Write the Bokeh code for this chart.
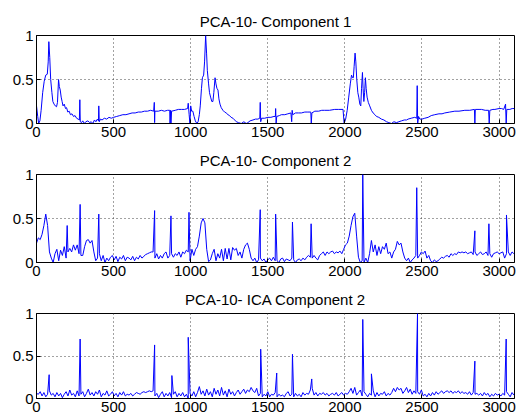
from bokeh.plotting import figure
from bokeh.layouts import column
from bokeh.models import FixedTicker, Range1d
from bokeh.embed import file_html
from bokeh.resources import INLINE

titles = ["PCA-10- Component 1", "PCA-10- Component 2", "PCA-10- ICA Component 2"]
x_ticks = [0, 500, 1000, 1500, 2000, 2500, 3000]
y_ticks = [0, 0.5, 1]
y_tick_labels = {0: "0", 0.5: "0.5", 1: "1"}

# Panel 1: PCA component 1 (sample index, value)
c1_x = [0, 8, 14, 22, 30, 40, 50, 60, 70, 76, 80, 86, 92, 100, 106, 114, 122, 130, 136, 143, 148, 154, 160, 166, 172, 180, 188, 195, 203, 212, 220, 230, 240, 250, 260, 270, 278, 281, 284, 292, 300, 310, 320, 333, 345, 355, 365, 376, 385, 395, 402, 404, 407, 415, 425, 440, 455, 470, 485, 500, 520, 540, 560, 580, 600, 620, 640, 660, 680, 700, 720, 740, 760, 764, 766, 768, 790, 810, 830, 850, 864, 866, 870, 872, 876, 900, 920, 940, 960, 980, 984, 990, 995, 1000, 1006, 1014, 1022, 1030, 1040, 1048, 1056, 1062, 1070, 1076, 1084, 1090, 1097, 1103, 1108, 1116, 1122, 1129, 1137, 1144, 1150, 1158, 1164, 1170, 1177, 1183, 1190, 1198, 1209, 1220, 1230, 1242, 1252, 1262, 1274, 1285, 1296, 1310, 1328, 1345, 1360, 1371, 1385, 1404, 1420, 1436, 1448, 1451, 1454, 1460, 1480, 1501, 1520, 1540, 1549, 1551, 1554, 1558, 1575, 1588, 1610, 1630, 1650, 1655, 1658, 1662, 1680, 1700, 1718, 1740, 1760, 1779, 1782, 1786, 1805, 1830, 1850, 1869, 1900, 1934, 1960, 1988, 1995, 2005, 2015, 2025, 2035, 2043, 2050, 2055, 2060, 2066, 2071, 2077, 2084, 2090, 2097, 2103, 2108, 2114, 2118, 2123, 2128, 2133, 2138, 2144, 2152, 2161, 2172, 2183, 2195, 2205, 2220, 2237, 2253, 2270, 2285, 2302, 2318, 2335, 2350, 2367, 2385, 2400, 2410, 2430, 2453, 2466, 2469, 2472, 2478, 2486, 2500, 2518, 2540, 2560, 2583, 2610, 2630, 2648, 2680, 2713, 2740, 2778, 2810, 2840, 2843, 2846, 2870, 2886, 2910, 2932, 2936, 2940, 2960, 2973, 3000, 3016, 3030, 3042, 3046, 3050, 3070, 3085, 3098]
c1_y = [0.20, 0.08, 0.0, 0.03, 0.15, 0.35, 0.48, 0.55, 0.56, 0.7, 0.93, 0.75, 0.5, 0.35, 0.25, 0.22, 0.2, 0.19, 0.24, 0.5, 0.42, 0.38, 0.3, 0.25, 0.2, 0.22, 0.17, 0.18, 0.13, 0.14, 0.1, 0.11, 0.08, 0.09, 0.06, 0.05, 0.04, 0.27, 0.02, 0.01, 0.03, 0.0, 0.02, 0.03, 0.01, 0.02, 0.0, 0.04, 0.02, 0.05, 0.03, 0.2, 0.02, 0.05, 0.04, 0.06, 0.05, 0.07, 0.06, 0.07, 0.08, 0.09, 0.1, 0.1, 0.11, 0.12, 0.12, 0.13, 0.13, 0.14, 0.14, 0.15, 0.14, 0.24, 0.01, 0.14, 0.14, 0.15, 0.14, 0.15, 0.15, 0.0, 0.15, 0.0, 0.14, 0.15, 0.16, 0.16, 0.16, 0.17, 0.23, 0.1, 0.0, 0.2, 0.14, 0.14, 0.08, 0.03, 0.0, 0.02, 0.1, 0.2, 0.4, 0.52, 0.55, 0.7, 1.0, 0.8, 0.6, 0.45, 0.35, 0.3, 0.25, 0.25, 0.35, 0.52, 0.45, 0.4, 0.38, 0.28, 0.22, 0.18, 0.15, 0.13, 0.12, 0.1, 0.09, 0.07, 0.06, 0.04, 0.02, 0.01, 0.0, 0.02, 0.0, 0.01, 0.03, 0.04, 0.05, 0.05, 0.06, 0.24, 0.02, 0.06, 0.06, 0.07, 0.07, 0.08, 0.08, 0.17, 0.0, 0.08, 0.09, 0.1, 0.1, 0.11, 0.12, 0.02, 0.15, 0.1, 0.12, 0.12, 0.12, 0.13, 0.13, 0.13, 0.0, 0.12, 0.14, 0.14, 0.15, 0.15, 0.15, 0.16, 0.16, 0.16, 0.0, 0.05, 0.15, 0.3, 0.45, 0.55, 0.52, 0.52, 0.65, 0.8, 0.7, 0.5, 0.35, 0.3, 0.22, 0.2, 0.4, 0.58, 0.4, 0.25, 0.35, 0.52, 0.4, 0.3, 0.24, 0.2, 0.15, 0.12, 0.1, 0.08, 0.07, 0.05, 0.04, 0.02, 0.01, 0.0, 0.02, 0.01, 0.02, 0.03, 0.04, 0.04, 0.05, 0.06, 0.07, 0.06, 0.43, 0.0, 0.08, 0.05, 0.05, 0.06, 0.07, 0.09, 0.1, 0.11, 0.11, 0.12, 0.13, 0.14, 0.14, 0.15, 0.15, 0.16, 0.0, 0.16, 0.16, 0.16, 0.15, 0.15, 0.0, 0.15, 0.16, 0.16, 0.17, 0.17, 0.16, 0.22, 0.0, 0.16, 0.16, 0.17, 0.17]

# Panels 2 and 3: baseline samples every 12 indices, plus narrow spikes
base_x = list(range(0, 3097, 12))

c2_base = [
    0.22, 0.28, 0.26, 0.32, 0.42, 0.55, 0.42, 0.12, 0.05, 0.00,
    0.10, 0.15, 0.02, 0.14, 0.08, 0.18, 0.05, 0.12, 0.16, 0.12,
    0.20, 0.14, 0.20, 0.10, 0.08, 0.08, 0.18, 0.25, 0.26, 0.22,
    0.25, 0.12, 0.02, 0.05, 0.10, 0.02, 0.08, 0.00, 0.05, 0.02,
    0.06, 0.08, 0.03, 0.07, 0.01, 0.06, 0.04, 0.08, 0.02, 0.06,
    0.05, 0.03, 0.07, 0.02, 0.06, 0.04, 0.08, 0.05, 0.07, 0.09,
    0.10, 0.11, 0.12, 0.12, 0.05, 0.10, 0.04, 0.08, 0.05, 0.10,
    0.12, 0.05, 0.08, 0.10, 0.06, 0.10, 0.08, 0.12, 0.06, 0.12,
    0.10, 0.14, 0.12, 0.02, 0.15, 0.08, 0.15, 0.18, 0.30, 0.45,
    0.50, 0.45, 0.15, 0.01, 0.03, 0.10, 0.15, 0.02, 0.10, 0.05,
    0.15, 0.02, 0.16, 0.04, 0.16, 0.03, 0.17, 0.14, 0.16, 0.08,
    0.12, 0.05, 0.15, 0.20, 0.22, 0.15, 0.05, 0.02, 0.05, 0.00,
    0.03, 0.05, 0.02, 0.04, 0.00, 0.03, 0.05, 0.02, 0.06, 0.02,
    0.02, 0.00, 0.04, 0.05, 0.01, 0.04, 0.03, 0.02, 0.05, 0.03,
    0.00, 0.03, 0.04, 0.02, 0.05, 0.03, 0.06, 0.08, 0.06, 0.05,
    0.08, 0.05, 0.03, 0.08, 0.10, 0.12, 0.08, 0.12, 0.10, 0.12,
    0.13, 0.10, 0.12, 0.11, 0.13, 0.10, 0.15, 0.20, 0.22, 0.30,
    0.42, 0.52, 0.56, 0.30, 0.06, 0.00, 0.02, 0.00, 0.05, 0.00,
    0.10, 0.25, 0.12, 0.20, 0.08, 0.18, 0.10, 0.18, 0.15, 0.22,
    0.10, 0.12, 0.05, 0.12, 0.15, 0.24, 0.20, 0.22, 0.12, 0.05,
    0.02, 0.05, 0.00, 0.03, 0.05, 0.08, 0.05, 0.08, 0.12, 0.10,
    0.13, 0.05, 0.08, 0.02, 0.00, 0.03, 0.01, 0.02, 0.04, 0.06,
    0.05, 0.07, 0.08, 0.06, 0.10, 0.08, 0.10, 0.09, 0.12, 0.11,
    0.12, 0.11, 0.12, 0.10, 0.11, 0.12, 0.09, 0.12, 0.08, 0.10,
    0.12, 0.09, 0.10, 0.12, 0.08, 0.10, 0.06, 0.10, 0.11, 0.12,
    0.10, 0.11, 0.12, 0.05, 0.10, 0.12, 0.08, 0.12, 0.10,
]
c2_spike_x = [199, 283, 404, 766, 872, 989, 1451, 1551, 1660, 1781, 2116, 2466, 2843, 2934, 3048]
c2_spike_y = [0.42, 0.66, 0.55, 0.59, 0.53, 0.57, 0.60, 0.55, 0.46, 0.44, 1.0, 0.85, 0.36, 0.44, 0.54]

c3_base = [
    0.06, 0.05, 0.08, 0.03, 0.07, 0.02, 0.05, 0.09, 0.04, 0.06,
    0.02, 0.07, 0.03, 0.06, 0.01, 0.05, 0.08, 0.03, 0.10, 0.04,
    0.06, 0.02, 0.09, 0.03, 0.05, 0.08, 0.02, 0.06, 0.11, 0.04,
    0.07, 0.03, 0.08, 0.05, 0.10, 0.02, 0.06, 0.04, 0.09, 0.03,
    0.05, 0.08, 0.03, 0.06, 0.02, 0.07, 0.04, 0.08, 0.03, 0.05,
    0.04, 0.06, 0.03, 0.05, 0.07, 0.06, 0.05, 0.07, 0.08, 0.07,
    0.08, 0.09, 0.08, 0.09, 0.03, 0.06, 0.01, 0.05, 0.08, 0.02,
    0.06, 0.03, 0.07, 0.01, 0.05, 0.08, 0.02, 0.06, 0.03, 0.07,
    0.02, 0.05, 0.00, 0.06, 0.03, 0.08, 0.02, 0.07, 0.14, 0.05,
    0.09, 0.03, 0.11, 0.04, 0.08, 0.02, 0.12, 0.05, 0.10, 0.03,
    0.13, 0.04, 0.09, 0.02, 0.11, 0.05, 0.08, 0.03, 0.07, 0.10,
    0.05, 0.08, 0.11, 0.06, 0.10, 0.08, 0.13, 0.09, 0.07, 0.12,
    0.03, 0.06, 0.02, 0.05, 0.03, 0.08, 0.02, 0.05, 0.04, 0.07,
    0.02, 0.05, 0.03, 0.04, 0.02, 0.06, 0.08, 0.03, 0.05, 0.02,
    0.06, 0.03, 0.05, 0.02, 0.07, 0.04, 0.06, 0.05, 0.10, 0.12,
    0.04, 0.07, 0.03, 0.06, 0.05, 0.07, 0.04, 0.06, 0.03, 0.05,
    0.06, 0.04, 0.07, 0.03, 0.05, 0.07, 0.04, 0.06, 0.05, 0.08,
    0.12, 0.06, 0.13, 0.04, 0.07, 0.10, 0.03, 0.08, 0.05, 0.02,
    0.06, 0.04, 0.09, 0.02, 0.07, 0.03, 0.06, 0.05, 0.08, 0.03,
    0.06, 0.04, 0.07, 0.12, 0.08, 0.13, 0.10, 0.12, 0.06, 0.09,
    0.13, 0.07, 0.11, 0.05, 0.09, 0.06, 0.08, 0.05, 0.10, 0.03,
    0.05, 0.02, 0.06, 0.03, 0.07, 0.04, 0.08, 0.05, 0.07, 0.09,
    0.06, 0.08, 0.09, 0.07, 0.09, 0.06, 0.08, 0.07, 0.09, 0.06,
    0.08, 0.06, 0.07, 0.05, 0.08, 0.04, 0.07, 0.05, 0.06, 0.04,
    0.06, 0.03, 0.07, 0.04, 0.06, 0.02, 0.05, 0.03, 0.06, 0.04,
    0.05, 0.03, 0.06, 0.04, 0.08, 0.05, 0.02, 0.07, 0.04,
]
c3_spike_x = [82, 283, 766, 878, 984, 1454, 1558, 1660, 1785, 2116, 2172, 2471, 2843, 3046]
c3_spike_y = [0.28, 0.70, 0.63, 0.27, 0.72, 0.58, 0.30, 0.52, 0.23, 0.93, 0.29, 1.0, 0.44, 0.70]


def merged(bx, by, sx, sy):
    pts = sorted(list(zip(bx, by)) + list(zip(sx, sy)))
    return [p[0] for p in pts], [p[1] for p in pts]


FONT = "Liberation Sans"


def make_panel(title, xs, ys, height, top, bottom):
    p = figure(width=516, height=height, x_range=Range1d(0, 3100), y_range=Range1d(0, 1),
               output_backend="svg", toolbar_location=None,
               min_border_left=36, min_border_right=2,
               min_border_top=top, min_border_bottom=bottom)
    p.title.text = title
    p.title.align = "center"
    p.title.text_font = FONT
    p.title.text_font_style = "normal"
    p.title.text_font_size = "15px"
    p.title.text_color = "black"
    p.title.standoff = 11
    p.title.offset = 0

    p.line(xs, ys, line_color="#0000ff", line_width=1)

    for ax in (p.xaxis[0], p.yaxis[0]):
        ax.major_tick_in = 4
        ax.major_tick_out = 0
        ax.minor_tick_line_color = None
        ax.axis_line_color = "black"
        ax.major_tick_line_color = "black"
        ax.major_label_text_font = FONT
        ax.major_label_text_font_size = "15px"
        ax.major_label_text_color = "black"
    p.xaxis.ticker = FixedTicker(ticks=x_ticks)
    p.xaxis.major_label_standoff = 3
    p.yaxis.ticker = FixedTicker(ticks=y_ticks)
    p.yaxis.major_label_overrides = y_tick_labels
    p.yaxis.major_label_standoff = 3

    p.xgrid.ticker = FixedTicker(ticks=x_ticks)
    p.ygrid.ticker = FixedTicker(ticks=[0.5])
    for g in (p.xgrid[0], p.ygrid[0]):
        g.grid_line_color = "#444444"
        g.grid_line_dash = "1 3"
        g.grid_line_width = 1
    p.outline_line_color = "black"
    p.background_fill_color = "white"
    p.border_fill_color = "white"
    return p


c2_x, c2_y = merged(base_x, c2_base, c2_spike_x, c2_spike_y)
c3_x, c3_y = merged(base_x, c3_base, c3_spike_x, c3_spike_y)

p1 = make_panel(titles[0], c1_x, c1_y, 144, 35, 21)
p2 = make_panel(titles[1], c2_x, c2_y, 139, 30, 21)
p3 = make_panel(titles[2], c3_x, c3_y, 136, 30, 21)

layout = column(p1, p2, p3, spacing=0)
open("out.html", "w").write(file_html(layout, INLINE))
